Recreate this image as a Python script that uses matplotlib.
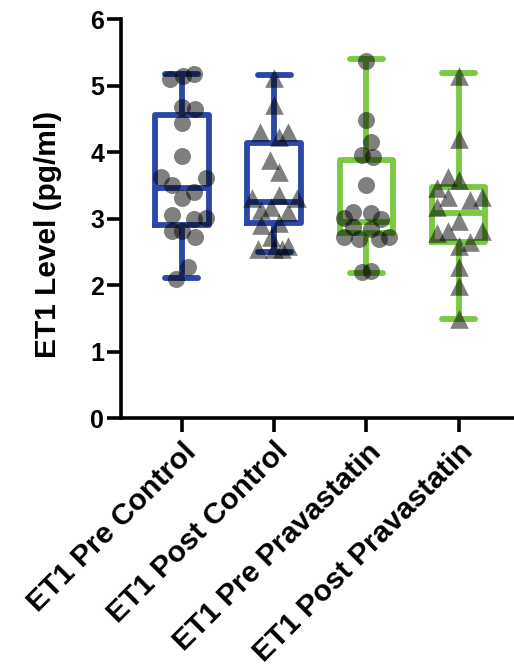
import numpy as np
import matplotlib
matplotlib.use("Agg")
import matplotlib.pyplot as plt

plt.rcParams['font.family'] = ['Liberation Sans', 'DejaVu Sans']
plt.rcParams['font.weight'] = 'bold'

# -----------------------------
# Data
# -----------------------------
groups = ['ET1 Pre Control', 'ET1 Post Control',
          'ET1 Pre Pravastatin', 'ET1 Post Pravastatin']

pre_control = [5.10, 5.15, 5.17, 4.67, 4.65, 4.43, 3.94, 3.63, 3.51, 3.61,
               3.40, 3.31, 3.06, 2.99, 3.01, 2.81, 2.81, 2.72, 2.27, 2.09]
pre_control_dx = [-0.13, 0.01, 0.13, 0.0, 0.14, 0.0, 0.0, -0.23, -0.11, 0.26,
                  0.13, 0.0, -0.11, 0.13, 0.26, -0.11, 0.0, 0.14, 0.07, -0.06]

post_control = [5.12, 4.70, 4.30, 4.30, 4.22, 3.88, 3.70, 3.31, 3.36, 3.31,
                3.13, 3.18, 3.10, 2.91, 2.94, 2.73, 2.54, 2.54, 2.54, 2.58]
post_control_dx = [0.0, 0.0, -0.15, 0.15, 0.05, -0.05, 0.05, -0.24, 0.05, 0.25,
                   -0.14, -0.03, 0.15, -0.14, 0.05, -0.03, -0.17, 0.0, 0.09, 0.15]

pre_prava = [5.37, 4.48, 4.15, 3.96, 3.93, 3.51, 3.10, 3.09, 3.01, 2.99,
             2.87, 2.84, 2.73, 2.69, 2.69, 2.72, 2.19, 2.21]
pre_prava_dx = [0.0, 0.0, 0.05, -0.05, 0.07, 0.0, -0.15, 0.05, -0.24, 0.16,
                -0.15, 0.05, -0.24, -0.08, 0.14, 0.25, -0.05, 0.05]

post_prava = [5.15, 4.20, 3.63, 3.58, 3.46, 3.33, 3.28, 3.33, 3.18, 2.96,
              2.79, 2.81, 2.81, 2.58, 2.64, 2.27, 1.99, 1.49]
post_prava_dx = [0.0, 0.0, -0.12, 0.0, -0.24, -0.12, 0.12, 0.25, -0.24, 0.0,
                 -0.24, -0.12, 0.25, 0.0, 0.12, 0.0, 0.0, 0.0]

# box statistics as drawn
q1 = [2.90, 2.93, 2.78, 2.65]
medians = [3.46, 3.25, 2.95, 3.08]
q3 = [4.56, 4.14, 3.88, 3.47]
whis_lo = [2.11, 2.50, 2.18, 1.49]
whis_hi = [5.17, 5.16, 5.40, 5.19]

values = [pre_control, post_control, pre_prava, post_prava]
offsets = [pre_control_dx, post_control_dx, pre_prava_dx, post_prava_dx]
markers = ['o', '^', 'o', '^']
box_colors = ['#2D47A6', '#2D47A6', '#7AC943', '#7AC943']

# -----------------------------
# Plot
# -----------------------------
fig = plt.figure(figsize=(5.14, 6.70), dpi=100)
ax = fig.add_axes([0.2354, 0.376, 0.7646, 0.5956])

for i in range(4):
    st = {'q1': q1[i], 'med': medians[i], 'q3': q3[i],
          'whislo': whis_lo[i], 'whishi': whis_hi[i], 'fliers': []}
    c = box_colors[i]
    ax.bxp([st], positions=[i], widths=0.58, capwidths=0.36, showfliers=False,
           boxprops=dict(color=c, linewidth=4.2),
           medianprops=dict(color=c, linewidth=4.2),
           whiskerprops=dict(color=c, linewidth=4.2),
           capprops=dict(color=c, linewidth=4.2, solid_capstyle='round'),
           manage_ticks=False)

for i in range(4):
    xs = i + np.array(offsets[i])
    s = 150 if markers[i] == 'o' else 180
    ax.scatter(xs, values[i], s=s, marker=markers[i], color='black',
               alpha=0.5, linewidths=0, zorder=5)

ax.set_xlim(-0.66, 3.6)
ax.set_ylim(0, 6)
ax.set_yticks(range(0, 7))
ax.set_xticks(range(4))
ax.set_xticklabels(groups, rotation=45, ha='right', rotation_mode='anchor',
                   fontsize=21.5, fontweight='bold')
ax.tick_params(axis='y', labelsize=18, width=2.6, length=10, pad=2)
ax.tick_params(axis='x', width=2.6, length=10, pad=4)
for lab in ax.get_yticklabels():
    lab.set_fontweight('bold')
ax.set_ylabel('ET1 Level (pg/ml)', fontsize=21.5, fontweight='bold')
ax.yaxis.set_label_coords(-0.15, 0.46)

ax.spines['top'].set_visible(False)
ax.spines['right'].set_visible(False)
ax.spines['left'].set_linewidth(2.6)
ax.spines['bottom'].set_linewidth(2.6)

fig.savefig('out.png', dpi=100)
